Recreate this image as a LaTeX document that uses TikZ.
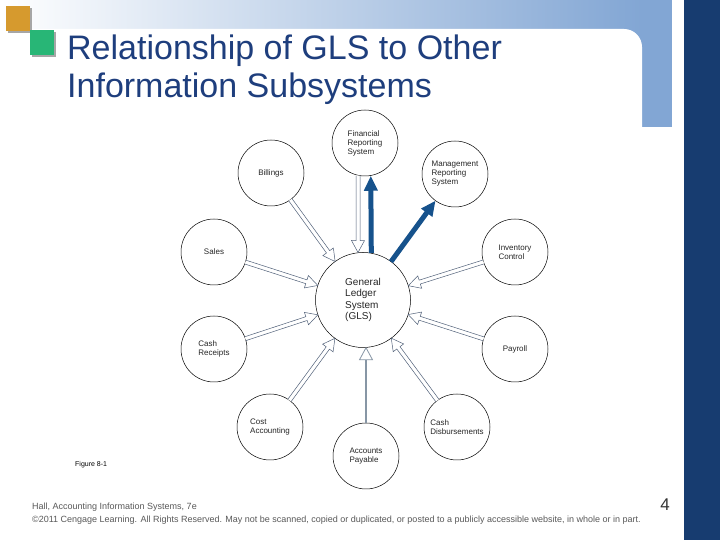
\documentclass[tikz,border=0pt]{standalone}
\usepackage{fontspec}
\setmainfont{Liberation Sans}
\usetikzlibrary{calc,arrows.meta}
\definecolor{titleblue}{RGB}{30,62,125}
\definecolor{barblue}{RGB}{130,166,212}
\definecolor{darkbar}{RGB}{23,60,112}
\definecolor{sqorange}{RGB}{214,154,46}
\definecolor{sqgreen}{RGB}{40,182,118}
\definecolor{arrline}{RGB}{80,96,120}
\definecolor{apgray}{RGB}{135,150,165}
\definecolor{flowblue}{RGB}{22,82,140}
\tikzset{
  sub/.style={draw=black, line width=0.5pt, circle, minimum size=66pt, inner sep=0pt,
    font=\fontsize{8}{9}\selectfont, align=left, text=black!85},
  glsnode/.style={sub, minimum size=95pt, font=\fontsize{10}{11.5}\selectfont},
  hollowarr/.style={draw=arrline, line width=0.5pt, fill=white, line join=miter},
  bluearr/.style={draw=flowblue, line width=5pt, -{Triangle[width=13pt,length=15pt]}},
  titletext/.style={anchor=base west, font=\fontsize{34}{38}\selectfont, text=titleblue, inner sep=0pt},
  foot/.style={anchor=base west, font=\fontsize{9}{10}\selectfont, text=black!65, inner sep=0pt},
}
\newcommand\hollowpts[2]{%
  \coordinate (hq) at ($(#2)!12pt!(#1)$);
  \draw[hollowarr] ($(#1)!2pt!90:(#2)$) -- ($(hq)!2pt!90:(#2)$) -- ($(hq)!6.5pt!90:(#2)$) -- (#2)
    -- ($(hq)!6.5pt!-90:(#2)$) -- ($(hq)!2pt!-90:(#2)$) -- ($(#1)!2pt!-90:(#2)$);
}
\newcommand\hollowconn[2]{%
  \coordinate (hs) at ($(#1)!33pt!(#2)$);
  \coordinate (ht) at ($(#2)!47.5pt!(#1)$);
  \hollowpts{hs}{ht}%
}
\begin{document}
\begin{tikzpicture}[x=1pt,y=1pt]
\useasboundingbox (0,0) rectangle (720,540);
% background
\shade[left color=white, right color=barblue] (0,540) rectangle (642,493);
\fill[barblue] (642,540) rectangle (672,413);
\fill[white] (-1,511) -- (624,511) arc[start angle=90,end angle=0,radius=18] -- (642,-1) -- (-1,-1) -- cycle;
\fill[darkbar] (684,0) rectangle (720,540);
\fill[black!35] (8,507) rectangle (32,532);
\fill[sqorange] (6,509) rectangle (30,534);
\fill[black!35] (32,483) rectangle (56,508);
\fill[sqgreen] (30,485) rectangle (54,510);
% title
\node[titletext] (t1) at (67,480) {Relationship of GLS to Other};
\node[titletext] (t2) at (67,442) {Information Subsystems};
% nodes
\node[glsnode] (gls) at (363,240) {General\\Ledger\\System\\(GLS)};
\node[sub] (fin) at (365,397) {Financial\\Reporting\\System};
\node[sub] (bil) at (271,367) {Billings};
\node[sub] (mgt) at (455,366) {Management\\Reporting\\System};
\node[sub] (sal) at (214,288) {Sales};
\node[sub] (inv) at (515,288) {Inventory\\Control};
\node[sub] (crc) at (214,191) {Cash\\Receipts};
\node[sub] (pay) at (515,191) {Payroll};
\node[sub] (cst) at (270,113) {Cost\\Accounting};
\node[sub] (cdb) at (457,113) {Cash\\Disbursements};
\node[sub] (ap) at (366,84) {Accounts\\Payable};
% hollow connectors into GLS
\hollowconn{bil}{gls}
\hollowconn{sal}{gls}
\hollowconn{inv}{gls}
\hollowconn{crc}{gls}
\hollowconn{pay}{gls}
\hollowconn{cst}{gls}
\hollowconn{cdb}{gls}
\coordinate (finS) at (fin.258);
\coordinate (finT) at (gls.96);
\hollowpts{finS}{finT}
% accounts payable connector
\coordinate (apT) at (ap.north |- gls.south);
\draw[apgray, line width=2.5pt] (ap.north) -- ($(apT)+(0,-12)$);
\draw[apgray, line width=0.8pt, fill=white, line join=miter] (apT) -- ++(-6.5,-12) -- ++(13,0) -- cycle;
% blue outputs
\draw[bluearr] (gls.80) -- (fin.280);
\draw[bluearr] ($(gls)!47.5pt!(mgt)$) -- ($(mgt)!33pt!(gls)$);
% captions
\node[anchor=base west, font=\fontsize{7}{8}\selectfont, inner sep=0pt] (fig) at (75,73) {Figure 8-1};
\node[foot] (f1) at (32,30) {Hall, Accounting Information Systems, 7e};
\node[foot] (f2) at (32,17) {©2011 Cengage Learning. All Rights Reserved. May not be scanned, copied or duplicated, or posted to a publicly accessible website, in whole or in part.};
\node[font=\fontsize{17}{20}\selectfont, text=black!80] (pg) at (665,35) {4};
\end{tikzpicture}
\end{document}
